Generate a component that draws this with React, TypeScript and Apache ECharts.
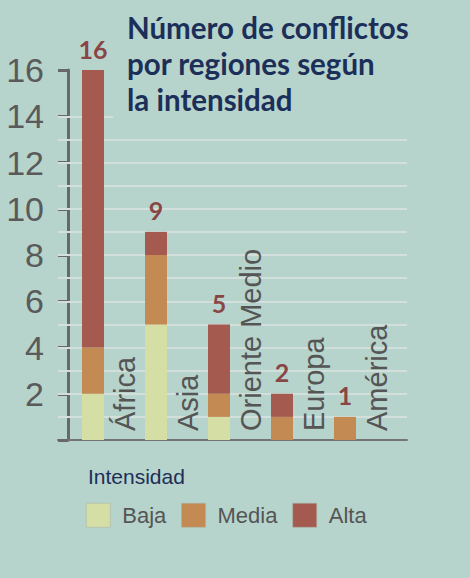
import React, { useEffect, useRef } from "react";
import * as echarts from "echarts";

const categories = ["África", "Asia", "Oriente Medio", "Europa", "América"];
const baja = [2, 5, 1, 0, 0];
const media = [2, 3, 1, 1, 1];
const alta = [12, 1, 3, 1, 0];
const totals = [16, 9, 5, 2, 1];
const yTicks = [0, 2, 4, 6, 8, 10, 12, 14, 16];
const gridLineValues = [1, 2, 3, 4, 5, 6, 7, 8, 9, 10, 11, 12, 13, 14];
const seriesNames = ["Baja", "Media", "Alta"];
const titleText = "Número de conflictos\npor regiones según\nla intensidad";
const legendTitle = "Intensidad";

const BG = "#b6d3cc";
const COLORS = ["#d5dea4", "#c38a53", "#a55a4f"];

export default function App() {
  const ref = useRef<HTMLDivElement>(null);
  useEffect(() => {
    if (!ref.current) return;
    const chart = echarts.init(ref.current, null, { renderer: "svg" });
    const barBase = {
      type: "bar",
      stack: "total",
      barWidth: 22,
      xAxisIndex: 1,
      yAxisIndex: 1,
      z: 10,
      silent: true,
    };
    chart.setOption({
      animation: false,
      backgroundColor: BG,
      color: COLORS,
      title: [
        {
          text: titleText,
          left: 113,
          top: 0,
          padding: [9, 20, 6, 14],
          backgroundColor: BG,
          z: 20,
          textStyle: {
            fontFamily: "Lato",
            fontWeight: "bold",
            fontSize: 29.5,
            lineHeight: 36,
            color: "#1c2f58",
          },
        },
        {
          text: legendTitle,
          left: 88,
          top: 466,
          padding: 0,
          textStyle: {
            fontFamily: "Liberation Sans",
            fontWeight: "normal",
            fontSize: 21,
            color: "#1c2f58",
          },
        },
      ],
      legend: {
        data: seriesNames,
        left: 86,
        top: 503,
        padding: 0,
        itemWidth: 24,
        itemHeight: 24,
        itemGap: 15,
        icon: "rect",
        itemStyle: { borderColor: "#a9b3a0", borderWidth: 0.5 },
        textStyle: {
          fontFamily: "Liberation Sans",
          fontSize: 22,
          color: "#555555",
          padding: [0, 0, 0, 7],
        },
      },
      grid: [
        { left: 58, right: 63, top: 70, bottom: 138 },
        { left: 61.5, right: 93.5, top: 70, bottom: 138 },
      ],
      xAxis: [
        {
          type: "value",
          gridIndex: 0,
          min: 0,
          max: 1,
          axisLine: { show: true, onZero: false, lineStyle: { color: "#747474", width: 2 } },
          axisTick: { show: false },
          axisLabel: { show: false },
          splitLine: { show: false },
        },
        {
          type: "category",
          gridIndex: 1,
          data: categories,
          axisLine: { show: false },
          axisTick: { show: false },
          axisLabel: { show: false },
          splitLine: { show: false },
        },
      ],
      yAxis: [
        {
          type: "value",
          gridIndex: 0,
          min: 0,
          max: 16,
          interval: 2,
          offset: -10,
          axisLine: { show: true, onZero: false, lineStyle: { color: "#686868", width: 3 } },
          axisTick: { show: true, length: 10, lineStyle: { color: "#686868", width: 3 } },
          axisLabel: {
            margin: 24,
            fontFamily: "Liberation Sans",
            fontSize: 34,
            color: "#5a5a5a",
            formatter: (v: number) => (yTicks.includes(v) && v !== 0 ? String(v) : ""),
          },
          splitLine: { show: false },
        },
        {
          type: "value",
          gridIndex: 1,
          min: 0,
          max: 16,
          interval: 2,
          axisLine: { show: false },
          axisTick: { show: false },
          axisLabel: { show: false },
          splitLine: { show: false },
        },
      ],
      series: [
        {
          type: "line",
          name: "rejilla",
          xAxisIndex: 0,
          yAxisIndex: 0,
          data: [],
          silent: true,
          z: 1,
          markLine: {
            silent: true,
            symbol: ["none", "none"],
            label: { show: false },
            lineStyle: { color: "#d2dfda", width: 2, type: "solid" },
            emphasis: { disabled: true },
            data: gridLineValues.map((v) => ({ yAxis: v })),
          },
        },
        { ...barBase, name: "Baja", data: baja, itemStyle: { color: COLORS[0] } },
        { ...barBase, name: "Media", data: media, itemStyle: { color: COLORS[1] } },
        { ...barBase, name: "Alta", data: alta, itemStyle: { color: COLORS[2] } },
        {
          type: "scatter",
          name: "totales",
          xAxisIndex: 1,
          yAxisIndex: 1,
          data: totals,
          symbolSize: 0,
          z: 12,
          silent: true,
          label: {
            show: true,
            position: "top",
            distance: 9,
            fontFamily: "Lato",
            fontWeight: "bold",
            fontSize: 25,
            color: "#7d1c1f",
            formatter: (p: any) => String(p.value),
          },
        },
        {
          type: "custom",
          name: "categorias",
          xAxisIndex: 1,
          yAxisIndex: 1,
          data: categories.map((_, i) => [i, 0]),
          z: 12,
          silent: true,
          clip: false,
          renderItem: (params: any, api: any) => {
            const p = api.coord([api.value(0), api.value(1)]);
            return {
              type: "text",
              x: p[0] + 32,
              y: p[1] - 9,
              rotation: Math.PI / 2,
              style: {
                text: categories[params.dataIndex],
                fontFamily: "Liberation Sans",
                fontSize: 29,
                fill: "#555555",
                align: "left",
                verticalAlign: "middle",
              },
            };
          },
        },
      ],
    });
    return () => chart.dispose();
  }, []);
  return (
    <div
      ref={ref}
      style={{ position: "fixed", left: 0, top: 0, width: 470, height: 578 }}
    />
  );
}
